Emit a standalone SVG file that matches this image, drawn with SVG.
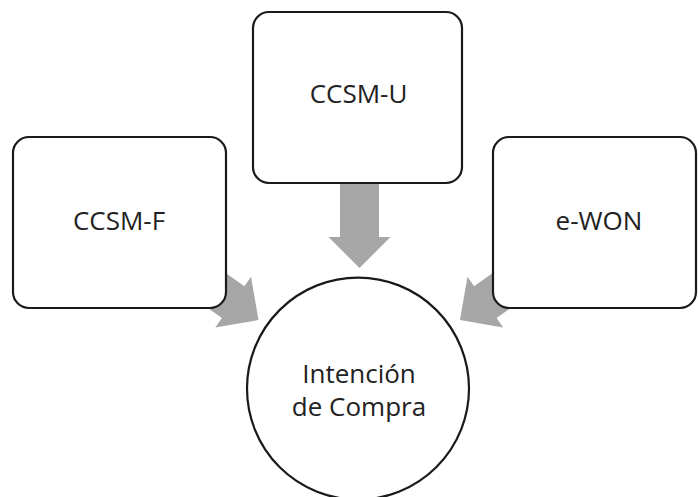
<svg xmlns="http://www.w3.org/2000/svg" width="698" height="497" viewBox="0 0 698 497">
  <defs>
    <style>
      .box { fill: #ffffff; stroke: #1a1a1a; stroke-width: 2.2; }
      .arrow { fill: #a6a6a6; stroke: none; }
      .label { font-family: "Open Sans", "Liberation Sans", sans-serif; font-size: 26px; fill: #222222; text-anchor: middle; }
    </style>
    <polygon id="blockArrow" points="-19.5,-85 19.5,-85 19.5,-31 31,-31 0,0 -31,-31 -19.5,-31"/>
  </defs>
  <rect width="698" height="497" fill="#ffffff"/>
  <g id="connectors">
    <use href="#blockArrow" class="arrow" transform="translate(359.5,268)"/>
    <use href="#blockArrow" class="arrow" transform="translate(258.5,320) rotate(-54.8)"/>
    <use href="#blockArrow" class="arrow" transform="translate(460,320) rotate(54.8)"/>
  </g>
  <g id="node-ccsm-f">
    <rect class="box" x="13" y="137" width="213" height="171" rx="16" ry="16"/>
    <text class="label" x="119" y="230">CCSM-F</text>
  </g>
  <g id="node-ccsm-u">
    <rect class="box" x="253" y="12" width="209" height="171" rx="16" ry="16"/>
    <text class="label" x="358.5" y="103">CCSM-U</text>
  </g>
  <g id="node-ewon">
    <rect class="box" x="493" y="137" width="203" height="171" rx="16" ry="16"/>
    <text class="label" x="599" y="230">e-WON</text>
  </g>
  <g id="node-intencion">
    <circle class="box" cx="358" cy="388.6" r="111"/>
    <text class="label" x="359" y="383">Intención</text>
    <text class="label" x="359" y="416">de Compra</text>
  </g>
</svg>
